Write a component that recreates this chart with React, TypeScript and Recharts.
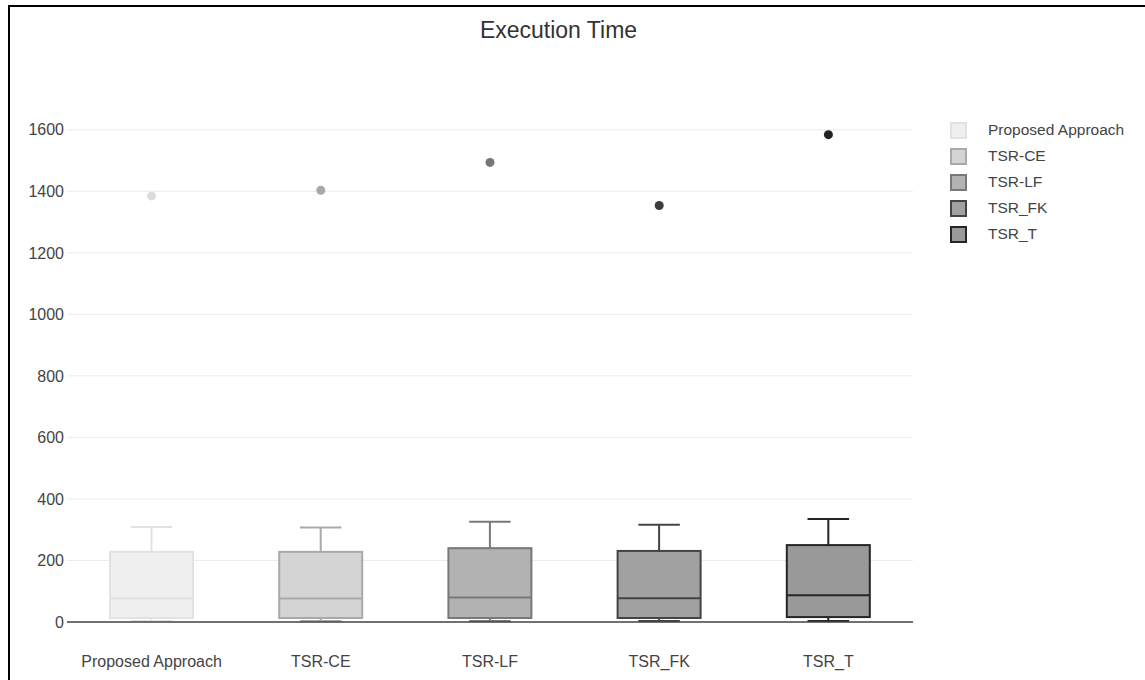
import { ComposedChart, Bar, Scatter, XAxis, YAxis, CartesianGrid, Cell } from "recharts";

const categories = ["Proposed Approach", "TSR-CE", "TSR-LF", "TSR_FK", "TSR_T"];
const mins = [3, 3, 3, 3, 3];
const q1s = [13, 13, 13, 13, 16];
const medians = [76, 76, 80, 77, 87];
const q3s = [228, 228, 240, 231, 250];
const maxs = [309, 307, 326, 316, 335];
const outliers = [1385, 1403, 1494, 1354, 1584];
const yTicks = [0, 200, 400, 600, 800, 1000, 1200, 1400, 1600];

const FILLS = ["#efefef", "#d4d4d4", "#b2b2b2", "#a1a1a1", "#999999"];
const STROKES = ["#e2e2e2", "#a9a9a9", "#787878", "#444444", "#262626"];
const DOTS = ["#dcdcdc", "#a8a8a8", "#767676", "#3d3d3d", "#222222"];

const FONT = "'Liberation Sans', Arial, sans-serif";

const data = categories.map((name, i) => ({
  name,
  range: [mins[i], maxs[i]],
  q1: q1s[i],
  median: medians[i],
  q3: q3s[i],
  outlier: outliers[i],
}));

// box + whiskers drawn inside the bar's [min, max] pixel span
function BoxShape(props: any) {
  const { x, y, width, height, payload, index } = props;
  const top = Math.min(y, y + height);
  const bottom = Math.max(y, y + height);
  const [lo, hi] = payload.range;
  const py = (v: number) => bottom - ((v - lo) / (hi - lo)) * (bottom - top);
  const stroke = STROKES[index];
  const fill = FILLS[index];
  const cx = x + width / 2;
  const cap = width / 4;
  return (
    <g>
      <line x1={cx} x2={cx} y1={py(payload.q3)} y2={top} stroke={stroke} strokeWidth={2} />
      <line x1={cx - cap} x2={cx + cap} y1={top} y2={top} stroke={stroke} strokeWidth={2} />
      <line x1={cx} x2={cx} y1={py(payload.q1)} y2={bottom} stroke={stroke} strokeWidth={2} />
      <line x1={cx - cap} x2={cx + cap} y1={bottom} y2={bottom} stroke={stroke} strokeWidth={2} />
      <rect
        x={x}
        y={py(payload.q3)}
        width={width}
        height={py(payload.q1) - py(payload.q3)}
        fill={fill}
        stroke={stroke}
        strokeWidth={2}
      />
      <line x1={x} x2={x + width} y1={py(payload.median)} y2={py(payload.median)} stroke={stroke} strokeWidth={2} />
    </g>
  );
}

function Dot(props: any) {
  const { cx, cy, index } = props;
  return <circle cx={cx} cy={cy} r={4.5} fill={DOTS[index]} />;
}

export default function App() {
  return (
    <div style={{ position: "absolute", left: 0, top: 0, width: 1145, height: 680, background: "#fff", overflow: "hidden", fontFamily: FONT }}>
      <div style={{ position: "absolute", left: 8, top: 5, width: 1200, height: 700, borderTop: "2px solid #000", borderLeft: "2px solid #000" }} />
      <div style={{ position: "absolute", left: 0, top: 19, width: 1117, textAlign: "center", fontSize: 23, lineHeight: "23px", color: "#333" }}>
        Execution Time
      </div>

      <ComposedChart
        width={1145}
        height={680}
        data={data}
        margin={{ top: 99, right: 232, left: 10, bottom: 18 }}
        style={{ position: "absolute", left: 0, top: 0 }}
      >
        <CartesianGrid vertical={false} stroke="#ececec" syncWithTicks />
        <XAxis
          dataKey="name"
          height={40}
          tickLine={false}
          tickSize={0}
          tickMargin={34}
          axisLine={{ stroke: "#444", strokeWidth: 1.5 }}
          tick={{ fontSize: 16, fill: "#444", fontFamily: FONT }}
          interval={0}
        />
        <YAxis
          width={57}
          domain={[0, 1700]}
          ticks={yTicks}
          axisLine={false}
          tickLine={false}
          tickSize={0}
          tickMargin={3}
          tick={{ fontSize: 16, fill: "#444", fontFamily: FONT }}
        />
        <Bar dataKey="range" barSize={83} shape={BoxShape} isAnimationActive={false} />
        <Scatter dataKey="outlier" shape={Dot} isAnimationActive={false}>
          {data.map((_, i) => (
            <Cell key={`dot-${i}`} fill={DOTS[i]} />
          ))}
        </Scatter>
      </ComposedChart>

      <div style={{ position: "absolute", left: 950, top: 117 }}>
        {categories.map((name, i) => (
          <div key={name} style={{ display: "flex", alignItems: "center", height: 26 }}>
            <div
              style={{
                width: 17,
                height: 17,
                boxSizing: "border-box",
                background: FILLS[i],
                border: `2px solid ${STROKES[i]}`,
              }}
            />
            <span style={{ marginLeft: 21, fontSize: 15.5, color: "#444" }}>{name}</span>
          </div>
        ))}
      </div>
    </div>
  );
}
